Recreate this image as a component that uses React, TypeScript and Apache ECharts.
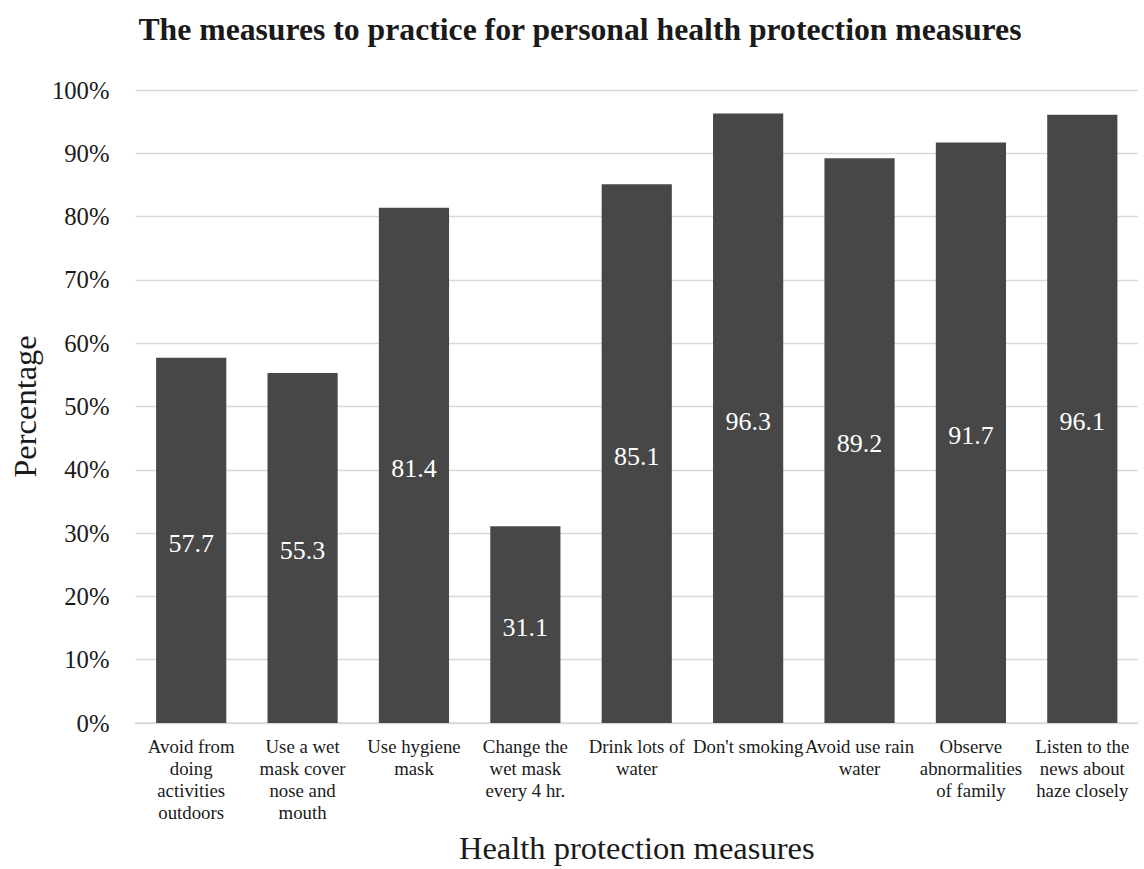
import React, { useEffect, useRef } from "react";
import * as echarts from "echarts";

// Share of respondents practising each personal health protection measure
const categories: string[] = [
  "Avoid from\ndoing\nactivities\noutdoors",
  "Use a wet\nmask cover\nnose and\nmouth",
  "Use hygiene\nmask",
  "Change the\nwet mask\nevery 4 hr.",
  "Drink lots of\nwater",
  "Don't smoking",
  "Avoid use rain\nwater",
  "Observe\nabnormalities\nof family",
  "Listen to the\nnews about\nhaze closely",
];

const percentages: number[] = [57.7, 55.3, 81.4, 31.1, 85.1, 96.3, 89.2, 91.7, 96.1];

const chartTitle = "The measures to practice for personal health protection measures";
const xAxisTitle = "Health protection measures";
const yAxisTitle = "Percentage";

const SERIF = '"Liberation Serif", "Times New Roman", serif';

export default function App() {
  const ref = useRef<HTMLDivElement | null>(null);

  useEffect(() => {
    document.body.style.margin = "0";
    if (!ref.current) return;
    const chart = echarts.init(ref.current, undefined, { renderer: "svg" });
    chart.setOption({
      animation: false,
      backgroundColor: "#ffffff",
      textStyle: { fontFamily: SERIF },
      title: {
        text: chartTitle,
        left: 575,
        textAlign: "center",
        top: 8,
        textStyle: {
          fontFamily: SERIF,
          fontWeight: "bold",
          fontSize: 31.7,
          color: "#1a1a1a",
        },
      },
      grid: { left: 134, right: 6, top: 90, bottom: 139, containLabel: false },
      xAxis: {
        type: "category",
        data: categories,
        name: xAxisTitle,
        nameLocation: "middle",
        nameGap: 108,
        nameTextStyle: {
          fontFamily: SERIF,
          fontSize: 32.5,
          color: "#1a1a1a",
          verticalAlign: "top",
        },
        axisLine: { show: true, lineStyle: { color: "#d9d9d9", width: 1.5 } },
        axisTick: { show: false },
        axisLabel: {
          interval: 0,
          hideOverlap: false,
          margin: 12,
          fontFamily: SERIF,
          fontSize: 18.8,
          lineHeight: 22,
          color: "#1a1a1a",
          align: "center",
        },
      },
      yAxis: {
        type: "value",
        min: 0,
        max: 100,
        interval: 10,
        name: yAxisTitle,
        nameLocation: "middle",
        nameGap: 94,
        nameRotate: 90,
        nameTextStyle: {
          fontFamily: SERIF,
          fontSize: 32.5,
          color: "#1a1a1a",
        },
        axisLine: { show: false },
        axisTick: { show: false },
        axisLabel: {
          formatter: "{value}%",
          margin: 26,
          fontFamily: SERIF,
          fontSize: 24.7,
          color: "#1a1a1a",
        },
        splitLine: { show: true, lineStyle: { color: "#d9d9d9", width: 1.3 } },
      },
      series: [
        {
          type: "bar",
          data: percentages,
          barCategoryGap: "37%",
          itemStyle: { color: "#474747" },
          label: {
            show: true,
            position: "inside",
            offset: [0, 3],
            formatter: "{c}",
            fontFamily: SERIF,
            fontSize: 26,
            color: "#ffffff",
          },
        },
      ],
    });
    return () => chart.dispose();
  }, []);

  return <div ref={ref} style={{ width: 1144, height: 869 }} />;
}
